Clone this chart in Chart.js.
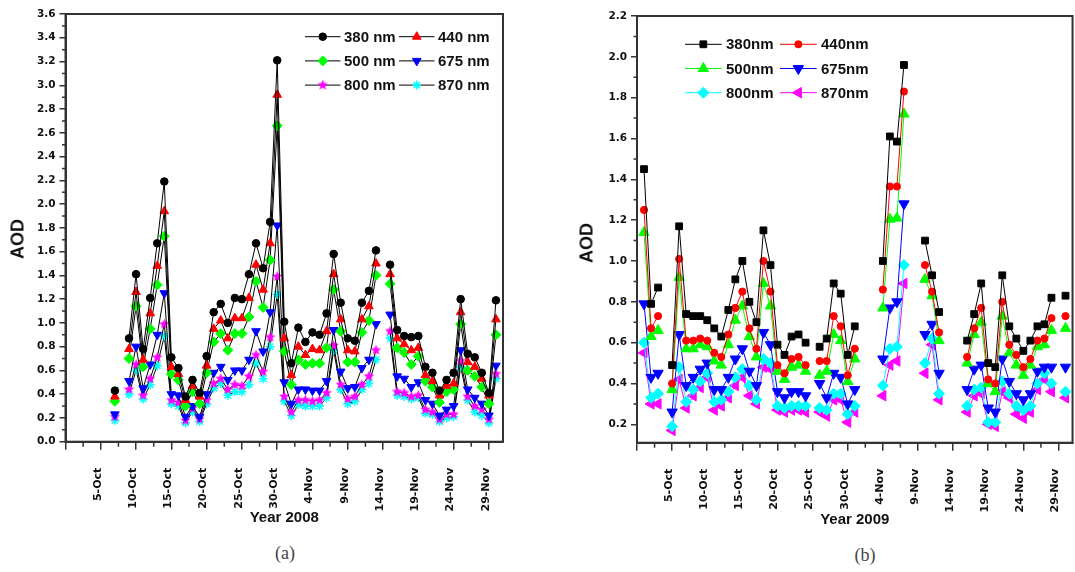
<!DOCTYPE html>
<html>
<head>
<meta charset="utf-8">
<script src="https://cdn.jsdelivr.net/npm/chart.js@4/dist/chart.umd.min.js"></script>
<style>
  body { margin: 0; width: 1075px; height: 572px; overflow: hidden; background: #fff; position: relative; }
  canvas { position: absolute; top: 0; }
  .ytitle { position: absolute; transform: translate(-50%, -50%) rotate(-90deg); font: bold 18px "Liberation Sans", Arial, sans-serif; color: #111; white-space: nowrap; }
  .caption { position: absolute; transform: translate(-50%, -50%); font: 18px "Liberation Serif", "Times New Roman", serif; color: #444; }
</style>
</head>
<body>
<canvas id="c2008" width="530" height="530" style="left:0"></canvas>
<canvas id="c2009" width="530" height="530" style="left:560px"></canvas>
<div class="ytitle" style="left:18px;top:239px">AOD</div>
<div class="ytitle" style="left:587px;top:243px">AOD</div>
<div class="caption" style="left:285px;top:553px">(a)</div>
<div class="caption" style="left:865px;top:555px">(b)</div>
<script>
// day 0 = 30-Sep, so 5-Oct = 5, 1-Nov = 32, 30-Nov = 61
const xTickDays = [0, 5, 10, 15, 20, 25, 30, 35, 40, 45, 50, 55, 60];
const xTickLabels = ['', '5-Oct', '10-Oct', '15-Oct', '20-Oct', '25-Oct', '30-Oct', '4-Nov', '9-Nov', '14-Nov', '19-Nov', '24-Nov', '29-Nov'];
const yTicks2008 = [0, 0.2, 0.4, 0.6, 0.8, 1.0, 1.2, 1.4, 1.6, 1.8, 2.0, 2.2, 2.4, 2.6, 2.8, 3.0, 3.2, 3.4, 3.6];
const yTicks2009 = [0.2, 0.4, 0.6, 0.8, 1.0, 1.2, 1.4, 1.6, 1.8, 2.0, 2.2];

// ---- 2008 (panel a) ----
const days2008 = [7, 8, 9, 10, 11, 12, 13, 14, 15, 16, 17, 18, 19, 20, 21, 22, 23, 24, 25, 26, 27, 28, 29, 30, 31, 32, 33, 34,
  35, 36, 37, 38, 39, 40, 41, 42, 43, 44, 45, 46, 47, 48, 49, 50, 51, 52, 53, 54, 55, 56, 57, 58, 59, 60, 61];
const a380 = [0.43, null, 0.87, 1.41, 0.78, 1.21, 1.67, 2.19, 0.71, 0.62, 0.38, 0.52, 0.41, 0.72, 1.09, 1.16, 1.00, 1.21, 1.20, 1.41, 1.67, 1.46, 1.85, 3.21, 1.01, 0.66, 0.96, 0.84,
  0.92, 0.90, 1.08, 1.58, 1.17, 0.87, 0.85, 1.17, 1.27, 1.61, null, 1.49, 0.94, 0.89, 0.88, 0.89, 0.63, 0.58, 0.43, 0.52, 0.58, 1.20, 0.74, 0.71, 0.58, 0.41, 1.19];
const a440 = [0.38, null, 0.78, 1.26, 0.69, 1.08, 1.48, 1.94, 0.63, 0.57, 0.35, 0.47, 0.38, 0.64, 0.95, 1.02, 0.87, 1.04, 1.04, 1.21, 1.49, 1.28, 1.67, 2.92, 0.87, 0.56, 0.80, 0.73,
  0.78, 0.77, 0.93, 1.41, 1.03, 0.77, 0.76, 1.03, 1.14, 1.50, null, 1.41, 0.87, 0.82, 0.77, 0.79, 0.56, 0.51, 0.39, 0.47, 0.49, 1.09, 0.67, 0.63, 0.53, 0.39, 1.03];
const a500 = [0.34, null, 0.70, 1.14, 0.63, 0.95, 1.32, 1.73, 0.57, 0.52, 0.30, 0.42, 0.32, 0.58, 0.84, 0.91, 0.77, 0.91, 0.91, 1.05, 1.35, 1.13, 1.53, 2.66, 0.76, 0.48, 0.69, 0.65,
  0.66, 0.66, 0.79, 1.28, 0.93, 0.67, 0.67, 0.92, 1.02, 1.40, null, 1.33, 0.79, 0.75, 0.65, 0.72, 0.51, 0.46, 0.33, 0.42, 0.44, 0.99, 0.60, 0.55, 0.46, 0.32, 0.90];
const a675 = [0.23, null, 0.51, 0.80, 0.45, 0.65, 0.90, 1.25, 0.40, 0.39, 0.21, 0.30, 0.21, 0.40, 0.58, 0.63, 0.52, 0.60, 0.60, 0.69, 0.93, 0.76, 1.09, 1.82, 0.50, 0.32, 0.44, 0.44,
  0.43, 0.43, 0.51, 0.94, 0.59, 0.45, 0.46, 0.62, 0.69, 0.99, null, 1.07, 0.55, 0.53, 0.46, 0.50, 0.35, 0.32, 0.22, 0.27, 0.30, 0.77, 0.44, 0.37, 0.32, 0.22, 0.64];
const a800 = [0.21, null, 0.44, 0.65, 0.39, 0.53, 0.71, 0.99, 0.35, 0.33, 0.18, 0.28, 0.19, 0.35, 0.49, 0.53, 0.44, 0.48, 0.47, 0.55, 0.73, 0.59, 0.88, 1.39, 0.38, 0.25, 0.35, 0.35,
  0.34, 0.35, 0.41, 0.81, 0.48, 0.36, 0.38, 0.48, 0.55, 0.77, null, 0.93, 0.42, 0.41, 0.38, 0.39, 0.27, 0.25, 0.19, 0.23, 0.23, 0.68, 0.38, 0.30, 0.27, 0.19, 0.57];
const a870 = [0.18, null, 0.40, 0.60, 0.36, 0.48, 0.64, 0.89, 0.32, 0.30, 0.16, 0.25, 0.17, 0.32, 0.45, 0.49, 0.39, 0.42, 0.42, 0.48, 0.66, 0.53, 0.80, 1.24, 0.34, 0.22, 0.31, 0.30,
  0.30, 0.30, 0.37, 0.77, 0.44, 0.32, 0.34, 0.44, 0.49, 0.69, null, 0.87, 0.39, 0.38, 0.36, 0.37, 0.24, 0.23, 0.17, 0.20, 0.21, 0.63, 0.35, 0.25, 0.22, 0.16, 0.53];

// ---- 2009 (panel b) ----
const days2009 = [1, 2, 3, 4, 5, 6, 7, 8, 9, 10, 11, 12, 13, 14, 15, 16, 17, 18, 19, 20, 21, 22, 23, 24, 25, 26, 27, 28, 29, 30, 31,
  32, 33, 34, 35, 36, 37, 38, 39, 40, 41, 42, 43, 44, 45, 46, 47, 48, 49, 50, 51, 52, 53, 54, 55, 56, 57, 58, 59, 60, 61];
const b380 = [1.45, 0.79, 0.87, null, 0.49, 1.17, 0.74, 0.73, 0.73, 0.71, 0.67, 0.63, 0.76, 0.91, 1.00, 0.80, 0.70, 1.15, 0.98, 0.59, 0.54, 0.63, 0.64, 0.60, null, 0.58, 0.62, 0.89, 0.84, 0.54, 0.68,
  null, null, null, 1.00, 1.61, 1.585, 1.96, null, null, 1.10, 0.93, 0.75, null, null, null, 0.61, 0.74, 0.89, 0.50, 0.48, 0.93, 0.68, 0.62, 0.56, 0.61, 0.68, 0.69, 0.82, null, 0.83];
const b440 = [1.25, 0.67, 0.73, null, 0.40, 1.01, 0.61, 0.61, 0.62, 0.61, 0.55, 0.53, 0.64, 0.77, 0.85, 0.67, 0.57, 1.00, 0.85, 0.49, 0.45, 0.52, 0.53, 0.49, null, 0.51, 0.51, 0.73, 0.68, 0.44, 0.57,
  null, null, null, 0.86, 1.365, 1.365, 1.83, null, null, 0.98, 0.85, 0.65, null, null, null, 0.53, 0.67, 0.77, 0.42, 0.40, 0.80, 0.59, 0.54, 0.48, 0.52, 0.61, 0.62, 0.72, null, 0.73];
const b500 = [1.14, 0.63, 0.66, null, 0.37, 0.92, 0.57, 0.57, 0.59, 0.58, 0.51, 0.49, 0.59, 0.71, 0.78, 0.63, 0.53, 0.89, 0.78, 0.46, 0.42, 0.48, 0.49, 0.46, null, 0.44, 0.46, 0.64, 0.61, 0.41, 0.52,
  null, null, null, 0.77, 1.205, 1.21, 1.72, null, null, 0.91, 0.83, 0.61, null, null, null, 0.50, 0.64, 0.70, 0.40, 0.36, 0.73, 0.55, 0.49, 0.44, 0.49, 0.58, 0.59, 0.66, null, 0.67];
const b675 = [0.79, 0.43, 0.45, null, 0.26, 0.64, 0.39, 0.43, 0.47, 0.50, 0.37, 0.37, 0.43, 0.52, 0.57, 0.46, 0.39, 0.65, 0.59, 0.36, 0.33, 0.36, 0.36, 0.34, null, 0.40, 0.33, 0.45, 0.43, 0.30, 0.37,
  null, null, null, 0.52, 0.77, 0.80, 1.28, null, null, 0.64, 0.69, 0.45, null, null, null, 0.37, 0.47, 0.49, 0.28, 0.26, 0.52, 0.41, 0.35, 0.32, 0.35, 0.46, 0.48, 0.48, null, 0.48];
const b800 = [0.60, 0.33, 0.35, null, 0.19, 0.48, 0.31, 0.37, 0.41, 0.45, 0.31, 0.32, 0.36, 0.43, 0.47, 0.39, 0.32, 0.52, 0.50, 0.29, 0.28, 0.29, 0.29, 0.29, null, 0.28, 0.27, 0.35, 0.35, 0.25, 0.29,
  null, null, null, 0.39, 0.57, 0.58, 0.98, null, null, 0.50, 0.62, 0.35, null, null, null, 0.29, 0.37, 0.38, 0.21, 0.21, 0.41, 0.35, 0.29, 0.27, 0.29, 0.40, 0.45, 0.40, null, 0.36];
const b870 = [0.55, 0.30, 0.30, null, 0.17, 0.42, 0.28, 0.34, 0.38, 0.43, 0.27, 0.29, 0.33, 0.39, 0.43, 0.34, 0.30, 0.48, 0.47, 0.27, 0.26, 0.27, 0.27, 0.26, null, 0.26, 0.24, 0.32, 0.32, 0.21, 0.26,
  null, null, null, 0.34, 0.49, 0.51, 0.89, null, null, 0.45, 0.59, 0.32, null, null, null, 0.26, 0.34, 0.35, 0.20, 0.19, 0.36, 0.33, 0.25, 0.23, 0.26, 0.37, 0.42, 0.36, null, 0.33];

const yTickFont = { family: 'DejaVu Sans', weight: 'bold', size: 10.5 };
const xTickFont = { family: 'DejaVu Sans', weight: 'bold', size: 11 };
const axisColor = '#333';

// filled five-point star used as a point image
function starImage(color, r) {
  const c = document.createElement('canvas');
  c.width = c.height = Math.ceil(r * 2 + 2);
  const g = c.getContext('2d');
  g.fillStyle = color;
  g.beginPath();
  for (let i = 0; i < 10; i++) {
    const rr = i % 2 ? r * 0.45 : r;
    const a = -Math.PI / 2 + i * Math.PI / 5;
    g.lineTo(c.width / 2 + rr * Math.cos(a), c.height / 2 + rr * Math.sin(a));
  }
  g.closePath();
  g.fill();
  return c;
}

const toPoints = (days, vals) => days.map((d, i) => ({ x: d, y: vals[i] }));

function series(label, days, vals, lineColor, markColor, style, radius, rotation) {
  return {
    label: label,
    data: toPoints(days, vals),
    borderColor: lineColor,
    borderWidth: 1,
    pointStyle: style,
    pointRadius: radius,
    pointRotation: rotation || 0,
    pointBackgroundColor: markColor,
    pointBorderColor: markColor,
    pointBorderWidth: style === 'star' ? 1.5 : 1,
    tension: 0,
    spanGaps: false,
    fill: false
  };
}

// legend drawn inside the plot, two columns, line + marker samples
const insideLegend = {
  id: 'insideLegend',
  afterDraw(chart, args, opts) {
    const { ctx, chartArea } = chart;
    ctx.save();
    ctx.font = opts.font;
    ctx.textBaseline = 'middle';
    chart.data.datasets.forEach((ds, i) => {
      const x = chartArea.left + opts.x + (i % 2) * opts.colWidth;
      const y = chartArea.top + opts.y + Math.floor(i / 2) * opts.rowHeight;
      ctx.strokeStyle = ds.borderColor;
      ctx.lineWidth = 1;
      ctx.beginPath();
      ctx.moveTo(x, y);
      ctx.lineTo(x + opts.sampleWidth, y);
      ctx.stroke();
      ctx.fillStyle = ds.pointBackgroundColor;
      ctx.strokeStyle = ds.pointBorderColor;
      ctx.lineWidth = ds.pointBorderWidth;
      Chart.helpers.drawPoint(ctx, {
        pointStyle: ds.pointStyle, radius: ds.pointRadius,
        rotation: ds.pointRotation, borderWidth: ds.pointBorderWidth
      }, x + opts.sampleWidth / 2, y);
      ctx.fillStyle = '#111';
      ctx.fillText(ds.label, x + opts.textOffset, y + 1);
    });
    ctx.restore();
  }
};

// closed frame + short minor ticks between the major ones
const frameAndMinor = {
  id: 'frameAndMinor',
  afterDraw(chart) {
    const { ctx, chartArea: a, scales } = chart;
    ctx.save();
    ctx.strokeStyle = axisColor;
    ctx.lineWidth = 2;
    ctx.strokeRect(a.left, a.top, a.right - a.left, a.bottom - a.top);
    ctx.lineWidth = 1.5;
    ctx.beginPath();
    scales.x.ticks.forEach(t => {
      const v = t.value + 2.5;
      if (v >= scales.x.min && v <= scales.x.max) {
        const px = scales.x.getPixelForValue(v);
        ctx.moveTo(px, a.bottom);
        ctx.lineTo(px, a.bottom + 5);
      }
    });
    scales.y.ticks.forEach(t => {
      const v = t.value + 0.1;
      if (v < scales.y.max) {
        const py = scales.y.getPixelForValue(v);
        ctx.moveTo(a.left, py);
        ctx.lineTo(a.left - 3.5, py);
      }
    });
    ctx.stroke();
    ctx.restore();
  }
};

function makeChart(id, datasets, yMin, yMax, yTicks, yWidth, xHeight, rightPad, topPad, title, titleBottom, legendOpts) {
  return new Chart(document.getElementById(id), {
    type: 'line',
    data: { datasets: datasets },
    options: {
      responsive: false,
      animation: false,
      layout: { padding: { top: topPad, right: rightPad, left: 0, bottom: 0 } },
      plugins: {
        legend: { display: false },
        tooltip: { enabled: false },
        insideLegend: legendOpts
      },
      scales: {
        x: {
          type: 'linear',
          min: 0,
          max: 62,
          afterBuildTicks: s => { s.ticks = xTickDays.map(v => ({ value: v })); },
          afterFit: s => { s.height = xHeight; },
          ticks: {
            autoSkip: false,
            minRotation: 90,
            maxRotation: 90,
            padding: 18,
            labelOffset: -3,
            color: '#111',
            font: xTickFont,
            callback: (v, i) => xTickLabels[i]
          },
          grid: { drawOnChartArea: false, drawTicks: true, tickLength: 8, color: axisColor, lineWidth: 1.5 },
          border: { display: true, color: axisColor, width: 2 },
          title: {
            display: true,
            text: title,
            color: '#111',
            font: { family: 'Liberation Sans', weight: 'bold', size: 15 },
            padding: { top: 0, bottom: titleBottom }
          }
        },
        y: {
          min: yMin,
          max: yMax,
          afterBuildTicks: s => { s.ticks = yTicks.map(v => ({ value: v })); },
          afterFit: s => { s.width = yWidth; },
          ticks: {
            padding: 4,
            color: '#111',
            font: yTickFont,
            callback: v => v.toFixed(1)
          },
          grid: { drawOnChartArea: false, drawTicks: true, tickLength: 6, color: axisColor, lineWidth: 1.5 },
          border: { display: true, color: axisColor, width: 2 }
        }
      }
    },
    plugins: [frameAndMinor, insideLegend]
  });
}

makeChart('c2008', [
  series('380 nm', days2008, a380, '#000', '#000', 'circle', 3.8),
  series('440 nm', days2008, a440, '#000', '#ff0000', 'triangle', 5),
  series('500 nm', days2008, a500, '#000', '#00ff00', 'rectRot', 5),
  series('675 nm', days2008, a675, '#000', '#0000ff', 'triangle', 5, 180),
  series('800 nm', days2008, a800, '#000', '#ff00ff', starImage('#ff00ff', 5.5), 5),
  series('870 nm', days2008, a870, '#000', '#00ffff', 'star', 4.5)
], 0, 3.6, yTicks2008, 65.5, 88.3, 27, 14, 'Year 2008', 3.5,
  { x: 239.5, y: 22.7, colWidth: 94, rowHeight: 24.2, sampleWidth: 35.5, textOffset: 39, font: 'bold 15px "Liberation Sans"' });

makeChart('c2009', [
  series('380nm', days2009, b380, '#000', '#000', 'rect', 4.8),
  series('440nm', days2009, b440, '#ff0000', '#ff0000', 'circle', 3.6),
  series('500nm', days2009, b500, '#00ff00', '#00ff00', 'triangle', 6),
  series('675nm', days2009, b675, '#0000ff', '#0000ff', 'triangle', 6, 180),
  series('800nm', days2009, b800, '#00ffff', '#00ffff', 'rectRot', 5.5),
  series('870nm', days2009, b870, '#ff00ff', '#ff00ff', 'triangle', 6, 270)
], 0.11, 2.2, yTicks2009, 77, 87.3, 10, 16, 'Year 2009', 1,
  { x: 48, y: 28.3, colWidth: 95, rowHeight: 24.2, sampleWidth: 36.7, textOffset: 41, font: 'bold 15px "Liberation Sans"' });
</script>
</body>
</html>
